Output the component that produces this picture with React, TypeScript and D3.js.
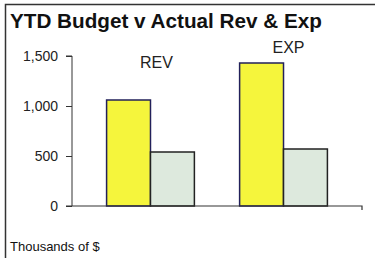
import React, { useEffect, useRef } from 'react';
import * as d3 from 'd3';

const categories = ['REV', 'EXP'];
const seriesNames = ['Budget', 'Actual'];
const budgetValues = [1060, 1430];
const actualValues = [540, 570];
const labelLevels = [1380, 1530];
const tickValues = [0, 500, 1000, 1500];

const App: React.FC = () => {
  const svgRef = useRef<SVGSVGElement | null>(null);

  useEffect(() => {
    if (!svgRef.current) return;
    const width = 375;
    const height = 258;
    const font = 'Liberation Sans, Arial, sans-serif';
    const svg = d3.select(svgRef.current);
    svg.selectAll('*').remove();

    svg.append('rect').attr('width', width).attr('height', height).attr('fill', '#fff');

    // frame
    svg
      .append('rect')
      .attr('x', 5.5)
      .attr('y', 4.5)
      .attr('width', 380)
      .attr('height', 270)
      .attr('fill', 'none')
      .attr('stroke', '#333')
      .attr('stroke-width', 1.5);

    svg
      .append('text')
      .attr('x', 10)
      .attr('y', 28)
      .style('font-family', font)
      .style('font-weight', 'bold')
      .style('font-size', '20.7px')
      .attr('fill', '#111')
      .text('YTD Budget v Actual Rev & Exp');

    const x0 = d3.scaleBand<string>().domain(categories).range([72, 362]).paddingInner(0.34).paddingOuter(0.26);
    const x1 = d3.scaleBand<string>().domain(seriesNames).range([0, x0.bandwidth()]);
    const y = d3.scaleLinear().domain([0, 1500]).range([206, 56]);

    const colors: Record<string, string> = { Budget: '#f5f53c', Actual: '#dde9dd' };
    const strokes: Record<string, string> = { Budget: '#22205a', Actual: '#222' };

    const rows = categories.map((c, i) => ({
      category: c,
      label: labelLevels[i],
      values: [
        { name: 'Budget', value: budgetValues[i] },
        { name: 'Actual', value: actualValues[i] },
      ],
    }));

    const groups = svg
      .selectAll('g.grp')
      .data(rows)
      .enter()
      .append('g')
      .attr('transform', (d) => `translate(${x0(d.category)},0)`);

    groups
      .selectAll('rect')
      .data((d) => d.values)
      .enter()
      .append('rect')
      .attr('x', (d) => x1(d.name) as number)
      .attr('y', (d) => y(d.value))
      .attr('width', x1.bandwidth())
      .attr('height', (d) => y(0) - y(d.value))
      .attr('fill', (d) => colors[d.name])
      .attr('stroke', (d) => strokes[d.name])
      .attr('stroke-width', 1.5);

    // category labels above the bar pairs
    groups
      .append('text')
      .attr('x', (d, i) => x0.bandwidth() / 2 + (i === 0 ? 6 : 5))
      .attr('y', (d) => y(d.label))
      .attr('text-anchor', 'middle')
      .style('font-family', font)
      .style('font-size', '16px')
      .attr('fill', '#222')
      .text((d) => d.category);

    // y axis
    const yAxis = d3
      .axisLeft(y)
      .tickValues(tickValues)
      .tickSize(6)
      .tickPadding(8)
      .tickFormat((d) => d3.format(',')(d as number));
    const ga = svg.append('g').attr('transform', 'translate(72,0)').call(yAxis);
    ga.select('.domain').attr('stroke', '#333').attr('d', `M-6,${y(1500)}H0V${y(0)}`);
    ga.selectAll('line').attr('stroke', '#333');
    ga.selectAll('text')
      .style('font-family', font)
      .style('font-size', '14px')
      .attr('fill', '#222');

    // x axis baseline
    svg
      .append('path')
      .attr('d', `M${x0.range()[0] - 6},${y(0)}H${x0.range()[1]}v4`)
      .attr('fill', 'none')
      .attr('stroke', '#333')
      .attr('stroke-width', 1.2);

    svg
      .append('text')
      .attr('x', 10)
      .attr('y', 251)
      .style('font-family', font)
      .style('font-size', '13px')
      .attr('fill', '#111')
      .text('Thousands of $');
  }, []);

  return (
    <svg
      ref={svgRef}
      width={375}
      height={258}
      style={{ position: 'absolute', left: 0, top: 0, display: 'block' }}
    ></svg>
  );
};

export default App;
